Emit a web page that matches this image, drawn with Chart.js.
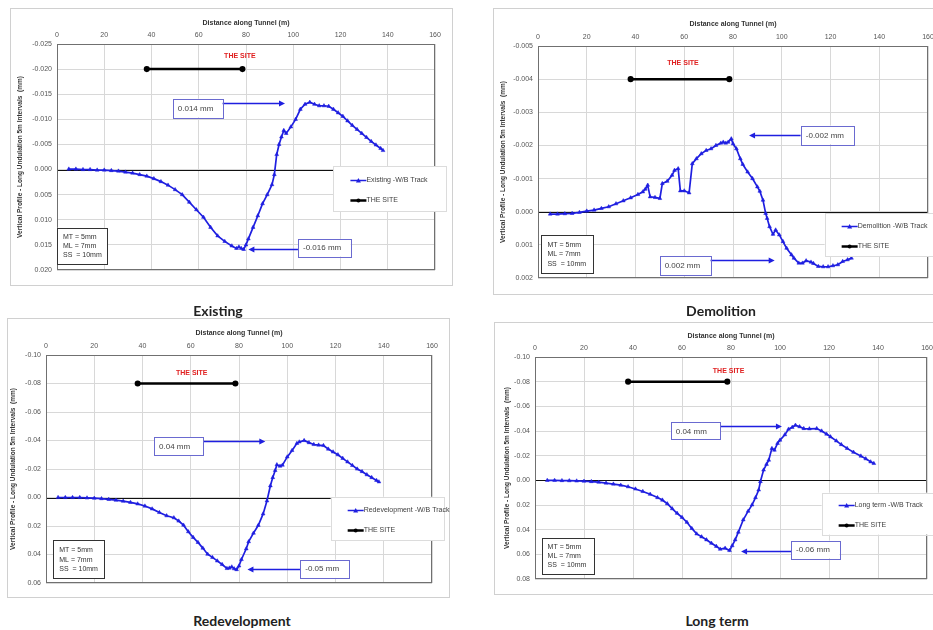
<!DOCTYPE html>
<html>
<head>
<meta charset="utf-8">
<script src="https://cdn.jsdelivr.net/npm/chart.js@4.4.1/dist/chart.umd.min.js"></script>
<style>
  body { margin:0; width:933px; height:630px; overflow:hidden; background:#fff; position:relative; }
  .frame { position:absolute; box-sizing:border-box; border:1px solid #d0d0d0; background:#fff; }
  canvas { position:absolute; }
  .cap { position:absolute; font:bold 14px Lato, "Open Sans", sans-serif; color:#222; transform:translate(-50%,-50%); white-space:nowrap; }
</style>
</head>
<body>
<div class="frame" style="left:10px;top:8px;width:443px;height:278px"></div>
<div class="frame" style="left:493px;top:8px;width:455px;height:287px"></div>
<div class="frame" style="left:7px;top:318px;width:443px;height:280px"></div>
<div class="frame" style="left:494px;top:322px;width:455px;height:273px"></div>
<canvas id="existing" width="443" height="278" style="left:10px;top:8px"></canvas>
<canvas id="demolition" width="455" height="287" style="left:493px;top:8px"></canvas>
<canvas id="redevelopment" width="443" height="280" style="left:7px;top:318px"></canvas>
<canvas id="longterm" width="455" height="273" style="left:494px;top:322px"></canvas>
<div class="cap" style="left:218px;top:310px">Existing</div>
<div class="cap" style="left:721px;top:310px">Demolition</div>
<div class="cap" style="left:242px;top:620px">Redevelopment</div>
<div class="cap" style="left:717px;top:620px">Long term</div>

<script>
// ---------- DATA ----------
// distance along tunnel (m) and vertical profile (mm)
const existingDist = [5,8,11,14,17,20,23,26,29,32,35,38,41,44,47,50,53,56,59,62,65,68,71,74,76,77,78,79,80,81,83,85,87,89,91,92,93,94,95,96,97,99,101,103,105,107,109,111,113,115,117,119,121,123,125,127,129,131,133,135,137,138];
const existingVals = [-0.0001,-0.0001,0.0000,0.0000,0.0001,0.0001,0.0002,0.0003,0.0005,0.0007,0.0010,0.0013,0.0018,0.0024,0.0031,0.0040,0.0050,0.0065,0.0080,0.0095,0.0115,0.0132,0.0143,0.0152,0.0157,0.0154,0.0157,0.0159,0.0150,0.0138,0.0115,0.0092,0.0068,0.0050,0.0030,0.0010,-0.0030,-0.0050,-0.0065,-0.0078,-0.0072,-0.0085,-0.0100,-0.0120,-0.0130,-0.0134,-0.0130,-0.0127,-0.0127,-0.0126,-0.0120,-0.0113,-0.0106,-0.0097,-0.0088,-0.0080,-0.0072,-0.0064,-0.0056,-0.0049,-0.0042,-0.0038];

const demolitionDist = [5,8,11,14,17,20,23,26,29,32,35,38,41,43,44,45,46,48,50,51,53,55,56,57.5,58.4,60,62,63.3,65,67,69,71,73,75,76,77,78,79.3,80,81.4,83,84,86,88,90,91,92.3,93.4,94,95,96.4,97.5,99,100.5,102,104,105,107,108.5,110,112,113,115,117,119,121,123,125,127,128.6];
const demolitionVals = [0.00007,0.00007,0.00006,0.00005,0.00002,-0.00002,-0.00005,-0.0001,-0.00015,-0.00024,-0.00033,-0.00042,-0.00052,-0.0006,-0.00068,-0.0008,-0.00045,-0.00043,-0.0004,-0.00085,-0.00092,-0.0011,-0.00125,-0.0013,-0.00063,-0.00063,-0.00057,-0.00145,-0.0016,-0.00175,-0.00185,-0.0019,-0.002,-0.00207,-0.0021,-0.00207,-0.0021,-0.0022,-0.00205,-0.0019,-0.0016,-0.00143,-0.0012,-0.001,-0.00075,-0.00062,-0.00035,0.00005,0.0002,0.00045,0.00068,0.00055,0.0007,0.0009,0.0011,0.0013,0.0014,0.00155,0.00155,0.00148,0.00152,0.00156,0.00165,0.00166,0.00166,0.00163,0.0016,0.0015,0.00145,0.0014];

const redevDist = [5,8,11,14,17,20,23,26,29,32,35,38,41,44,47,50,53,55,57,59,61,63,65,67,69,71,73,75,76,77,78,79,80,81,83,84,86,88,90,91.6,93,94,95,95.7,97,98,100,102,104,105,107,109,111,113,115,117,119,121,123,125,127,129,131,133,135,137,138];
const redevVals = [0.0000,0.0000,0.0000,0.0000,0.0003,0.0005,0.0008,0.0013,0.0019,0.0026,0.0034,0.0045,0.0060,0.0080,0.0105,0.0128,0.0142,0.0165,0.0194,0.0240,0.0280,0.0315,0.0355,0.0398,0.0420,0.0445,0.0470,0.0498,0.0495,0.0487,0.0500,0.0506,0.0480,0.0435,0.0360,0.0310,0.0250,0.0195,0.0115,0.0023,-0.0082,-0.0140,-0.0190,-0.0230,-0.0220,-0.0227,-0.0285,-0.0330,-0.0380,-0.0390,-0.0400,-0.0385,-0.0372,-0.0368,-0.0365,-0.0340,-0.0320,-0.0300,-0.0275,-0.0250,-0.0225,-0.0200,-0.0182,-0.0160,-0.0140,-0.0120,-0.0110];

const longDist = [5,8,11,14,17,20,23,26,29,32,35,38,41,44,47,50,52,54,56,58,60,62,64,66,68,70,72,74,75.6,77.6,79.4,80.5,81.7,83,85,87,88.6,90,91.3,92,93.3,94.5,95.4,96.7,97.7,99,100,102,103.5,105,106.3,108,109.7,112,115,117,119,120.6,123,125,127.4,130,133,135,137,138.3];
const longVals = [0.0000,0.0000,0.0002,0.0003,0.0005,0.0007,0.0010,0.0015,0.0022,0.0030,0.0039,0.0052,0.0070,0.0090,0.0113,0.0140,0.0160,0.0190,0.0230,0.0267,0.0300,0.0340,0.0390,0.0434,0.0458,0.0482,0.0510,0.0535,0.0558,0.0550,0.0569,0.0530,0.0482,0.0420,0.0320,0.0250,0.0199,0.0140,0.0078,0.0010,-0.0084,-0.0130,-0.0164,-0.0259,-0.0245,-0.0300,-0.0326,-0.0370,-0.0415,-0.0430,-0.0447,-0.0435,-0.0420,-0.0418,-0.0420,-0.0400,-0.0375,-0.0353,-0.0320,-0.0290,-0.0259,-0.0228,-0.0197,-0.0175,-0.0150,-0.0137];

const siteStart = 38;
const siteEnd = 78.5;
const xTicks = [0, 160, 20]; // min, max, step

// ---------- OVERLAY (zero line, frame, notes, legend) ----------
const BLUE = '#1f1fe0';
const overlay = {
  id: 'overlay',
  beforeDatasetsDraw(chart, args, o) {
    const {ctx, chartArea: a, scales: {y}} = chart;
    ctx.save();
    const y0 = Math.round(y.getPixelForValue(0)) + 0.5;
    ctx.strokeStyle = '#111';
    ctx.lineWidth = 1;
    ctx.beginPath(); ctx.moveTo(a.left, y0); ctx.lineTo(a.right, y0); ctx.stroke();
    ctx.strokeStyle = '#707070';
    ctx.strokeRect(a.left + 0.5, a.top + 0.5, a.width - 1, a.height - 1);
    ctx.restore();
  },
  afterDraw(chart, args, o) {
    const {ctx, scales: {x, y}} = chart;
    const px = v => x.getPixelForValue(v);
    const py = v => y.getPixelForValue(v);
    ctx.save();

    // site label
    ctx.fillStyle = '#e02020';
    ctx.font = 'bold 7px "Liberation Sans", Arial, sans-serif';
    ctx.textAlign = 'center'; ctx.textBaseline = 'middle';
    ctx.fillText('THE SITE', px(o.siteLabel[0]), py(o.siteLabel[1]));

    // arrows
    ctx.strokeStyle = BLUE; ctx.fillStyle = BLUE; ctx.lineWidth = 1.5;
    o.arrows.forEach(ar => {
      const x1 = px(ar[0]), x2 = px(ar[1]), yy = Math.round(py(ar[2])) + 0.5;
      const d = x2 > x1 ? 1 : -1;
      ctx.beginPath(); ctx.moveTo(x1, yy); ctx.lineTo(x2 - d * 4, yy); ctx.stroke();
      ctx.beginPath(); ctx.moveTo(x2, yy); ctx.lineTo(x2 - d * 6, yy - 3); ctx.lineTo(x2 - d * 6, yy + 3); ctx.closePath(); ctx.fill();
    });

    // note boxes
    ctx.font = '8px "Liberation Sans", Arial, sans-serif';
    ctx.textAlign = 'left';
    o.boxes.forEach(b => {
      const l = px(b[0]), r = px(b[1]), t = py(b[2]), btm = py(b[3]);
      ctx.fillStyle = '#fff';
      ctx.fillRect(l, t, r - l, btm - t);
      ctx.strokeStyle = '#6a6ad0'; ctx.lineWidth = 1;
      ctx.strokeRect(Math.round(l) + 0.5, Math.round(t) + 0.5, Math.round(r - l), Math.round(btm - t));
      ctx.fillStyle = '#444';
      ctx.fillText(b[4], l + 5, (t + btm) / 2 + 0.5);
    });

    // MT / ML / SS box
    const m = o.mt;
    const ml = px(m[0]), mr = px(m[1]), mtp = py(m[2]), mb = py(m[3]);
    ctx.fillStyle = '#fff';
    ctx.fillRect(ml, mtp, mr - ml, mb - mtp);
    ctx.strokeStyle = '#333'; ctx.lineWidth = 1;
    ctx.strokeRect(Math.round(ml) + 0.5, Math.round(mtp) + 0.5, Math.round(mr - ml), Math.round(mb - mtp));
    ctx.fillStyle = '#333';
    ctx.font = '7px "Liberation Sans", Arial, sans-serif';
    ['MT = 5mm', 'ML = 7mm', 'SS  = 10mm'].forEach((s, i) => {
      ctx.fillText(s, ml + 6, mtp + (mb - mtp) * (0.26 + i * 0.25));
    });

    // legend
    const g = o.legend;
    const gl = px(g[0]), gr = px(g[1]), gt = py(g[2]), gb = py(g[3]);
    ctx.fillStyle = '#fff';
    ctx.fillRect(gl, gt, gr - gl, gb - gt);
    ctx.strokeStyle = '#dcdcdc';
    ctx.strokeRect(Math.round(gl) + 0.5, Math.round(gt) + 0.5, Math.round(gr - gl), Math.round(gb - gt));
    const r1 = Math.round(gt + (gb - gt) * 0.3) + 0.5, r2 = Math.round(gt + (gb - gt) * 0.76) + 0.5;
    ctx.strokeStyle = BLUE; ctx.lineWidth = 1.5;
    ctx.beginPath(); ctx.moveTo(gl + 17, r1); ctx.lineTo(gl + 33, r1); ctx.stroke();
    ctx.fillStyle = BLUE;
    ctx.beginPath(); ctx.moveTo(gl + 25, r1 - 2.5); ctx.lineTo(gl + 27.5, r1 + 2); ctx.lineTo(gl + 22.5, r1 + 2); ctx.closePath(); ctx.fill();
    ctx.strokeStyle = '#000'; ctx.lineWidth = 2.5;
    ctx.beginPath(); ctx.moveTo(gl + 17, r2); ctx.lineTo(gl + 33, r2); ctx.stroke();
    ctx.fillStyle = '#000';
    ctx.beginPath(); ctx.arc(gl + 25, r2, 2, 0, Math.PI * 2); ctx.fill();
    ctx.fillStyle = '#404040';
    ctx.font = '7px "Liberation Sans", Arial, sans-serif';
    ctx.fillText(o.seriesName, gl + 33, r1);
    ctx.fillText('THE SITE', gl + 33, r2);
    ctx.restore();
  }
};

// ---------- CHART BUILDER ----------
function makeChart(id, dist, vals, p) {
  const tickFont = {family: '"Liberation Sans", Arial, sans-serif', size: 7};
  const titleFont = {family: '"Liberation Sans", Arial, sans-serif', size: 6.5, weight: 'bold'};
  return new Chart(document.getElementById(id), {
    type: 'line',
    data: {
      datasets: [{
        label: p.seriesName,
        data: dist.map((d, i) => ({x: d, y: vals[i]})),
        borderColor: BLUE,
        backgroundColor: BLUE,
        borderWidth: 1.7,
        pointStyle: 'triangle',
        pointRadius: 2.2,
        pointBorderWidth: 0.5,
        tension: 0
      }, {
        label: 'THE SITE',
        data: [{x: siteStart, y: p.siteLevel}, {x: siteEnd, y: p.siteLevel}],
        borderColor: '#000',
        backgroundColor: '#000',
        borderWidth: 2.5,
        pointRadius: 1.8
      }]
    },
    options: {
      responsive: false,
      animation: false,
      layout: {padding: {left: 0, top: 0, right: p.padR, bottom: p.padB}},
      plugins: {legend: {display: false}, tooltip: {enabled: false}, overlay: p},
      scales: {
        x: {
          type: 'linear', position: 'top', min: xTicks[0], max: xTicks[1],
          ticks: {stepSize: xTicks[2], font: tickFont, color: '#555', padding: 5, maxRotation: 0},
          grid: {color: '#d8d8d8', drawTicks: false},
          border: {display: false},
          title: {display: true, text: 'Distance along Tunnel (m)', font: {...titleFont, size: 7}, color: '#333', padding: {top: p.xTitlePad, bottom: 0}},
          afterFit: s => { s.height = p.axisH; }
        },
        y: {
          type: 'linear', reverse: true, min: p.yMin, max: p.yMax,
          ticks: {
            stepSize: p.yStep, font: tickFont, color: '#555', padding: 5,
            callback: v => (Math.abs(v) < 1e-9 ? 0 : v).toFixed(p.dec)
          },
          grid: {color: '#d8d8d8', drawTicks: false},
          border: {display: false},
          title: {display: true, text: 'Vertical Profile - Long Undulation 5m Intervals  (mm)', font: titleFont, color: '#333', padding: {top: p.yTitlePad, bottom: 0}},
          afterFit: s => { s.width = p.axisW; }
        }
      }
    },
    plugins: [overlay]
  });
}

makeChart('existing', existingDist, existingVals, {
  seriesName: 'Existing -W/B Track',
  yMin: -0.025, yMax: 0.020, yStep: 0.005, dec: 3, siteLevel: -0.020,
  axisW: 47, axisH: 36, padR: 18, padB: 16, xTitlePad: 11, yTitlePad: 6,
  siteLabel: [77.4, -0.0225],
  boxes: [[49, 70, -0.0141, -0.0104, '0.014 mm'], [102, 124.3, 0.0138, 0.0173, '-0.016 mm']],
  arrows: [[70, 96.5, -0.0133], [102, 81, 0.0158]],
  mt: [0, 21.2, 0.0116, 0.0188],
  legend: [117, 165, -0.00066, 0.0083]
});

makeChart('demolition', demolitionDist, demolitionVals, {
  seriesName: 'Demolition -W/B Track',
  yMin: -0.005, yMax: 0.002, yStep: 0.001, dec: 3, siteLevel: -0.004,
  axisW: 45, axisH: 38, padR: 20, padB: 17, xTitlePad: 12, yTitlePad: 6,
  siteLabel: [59.5, -0.0045],
  boxes: [[107.8, 129.5, -0.0026, -0.00204, '-0.002 mm'], [49.9, 70.7, 0.00134, 0.00192, '0.002 mm']],
  arrows: [[107.8, 86.6, -0.0023], [70.7, 97.1, 0.00146]],
  mt: [1.4, 22.6, 0.0007, 0.00186],
  legend: [117.6, 163.5, 0.00005, 0.00136]
});

makeChart('redevelopment', redevDist, redevVals, {
  seriesName: 'Redevelopment -W/B Track',
  yMin: -0.10, yMax: 0.06, yStep: 0.02, dec: 2, siteLevel: -0.08,
  axisW: 39, axisH: 37, padR: 18, padB: 15, xTitlePad: 11, yTitlePad: 2,
  siteLabel: [60.4, -0.0876],
  boxes: [[44.8, 65.3, -0.0422, -0.0293, '0.04 mm'], [105.4, 125.9, 0.0436, 0.0564, '-0.05 mm']],
  arrows: [[65.3, 90.9, -0.0396], [105.4, 83.5, 0.0499]],
  mt: [3.0, 24.1, 0.030, 0.0569],
  legend: [118, 165, -0.0005, 0.030]
});

makeChart('longterm', longDist, longVals, {
  seriesName: 'Long term -W/B Track',
  yMin: -0.10, yMax: 0.08, yStep: 0.02, dec: 2, siteLevel: -0.08,
  axisW: 41, axisH: 35, padR: 22, padB: 16, xTitlePad: 10, yTitlePad: 9,
  siteLabel: [79, -0.0884],
  boxes: [[55.4, 75.6, -0.0469, -0.0332, '0.04 mm'], [104.5, 124.3, 0.0488, 0.0631, '-0.06 mm']],
  arrows: [[75.6, 100.8, -0.0442], [104.5, 84.1, 0.0569]],
  mt: [2.7, 23.8, 0.0469, 0.076],
  legend: [117, 164, 0.01, 0.044]
});
</script>
</body>
</html>
